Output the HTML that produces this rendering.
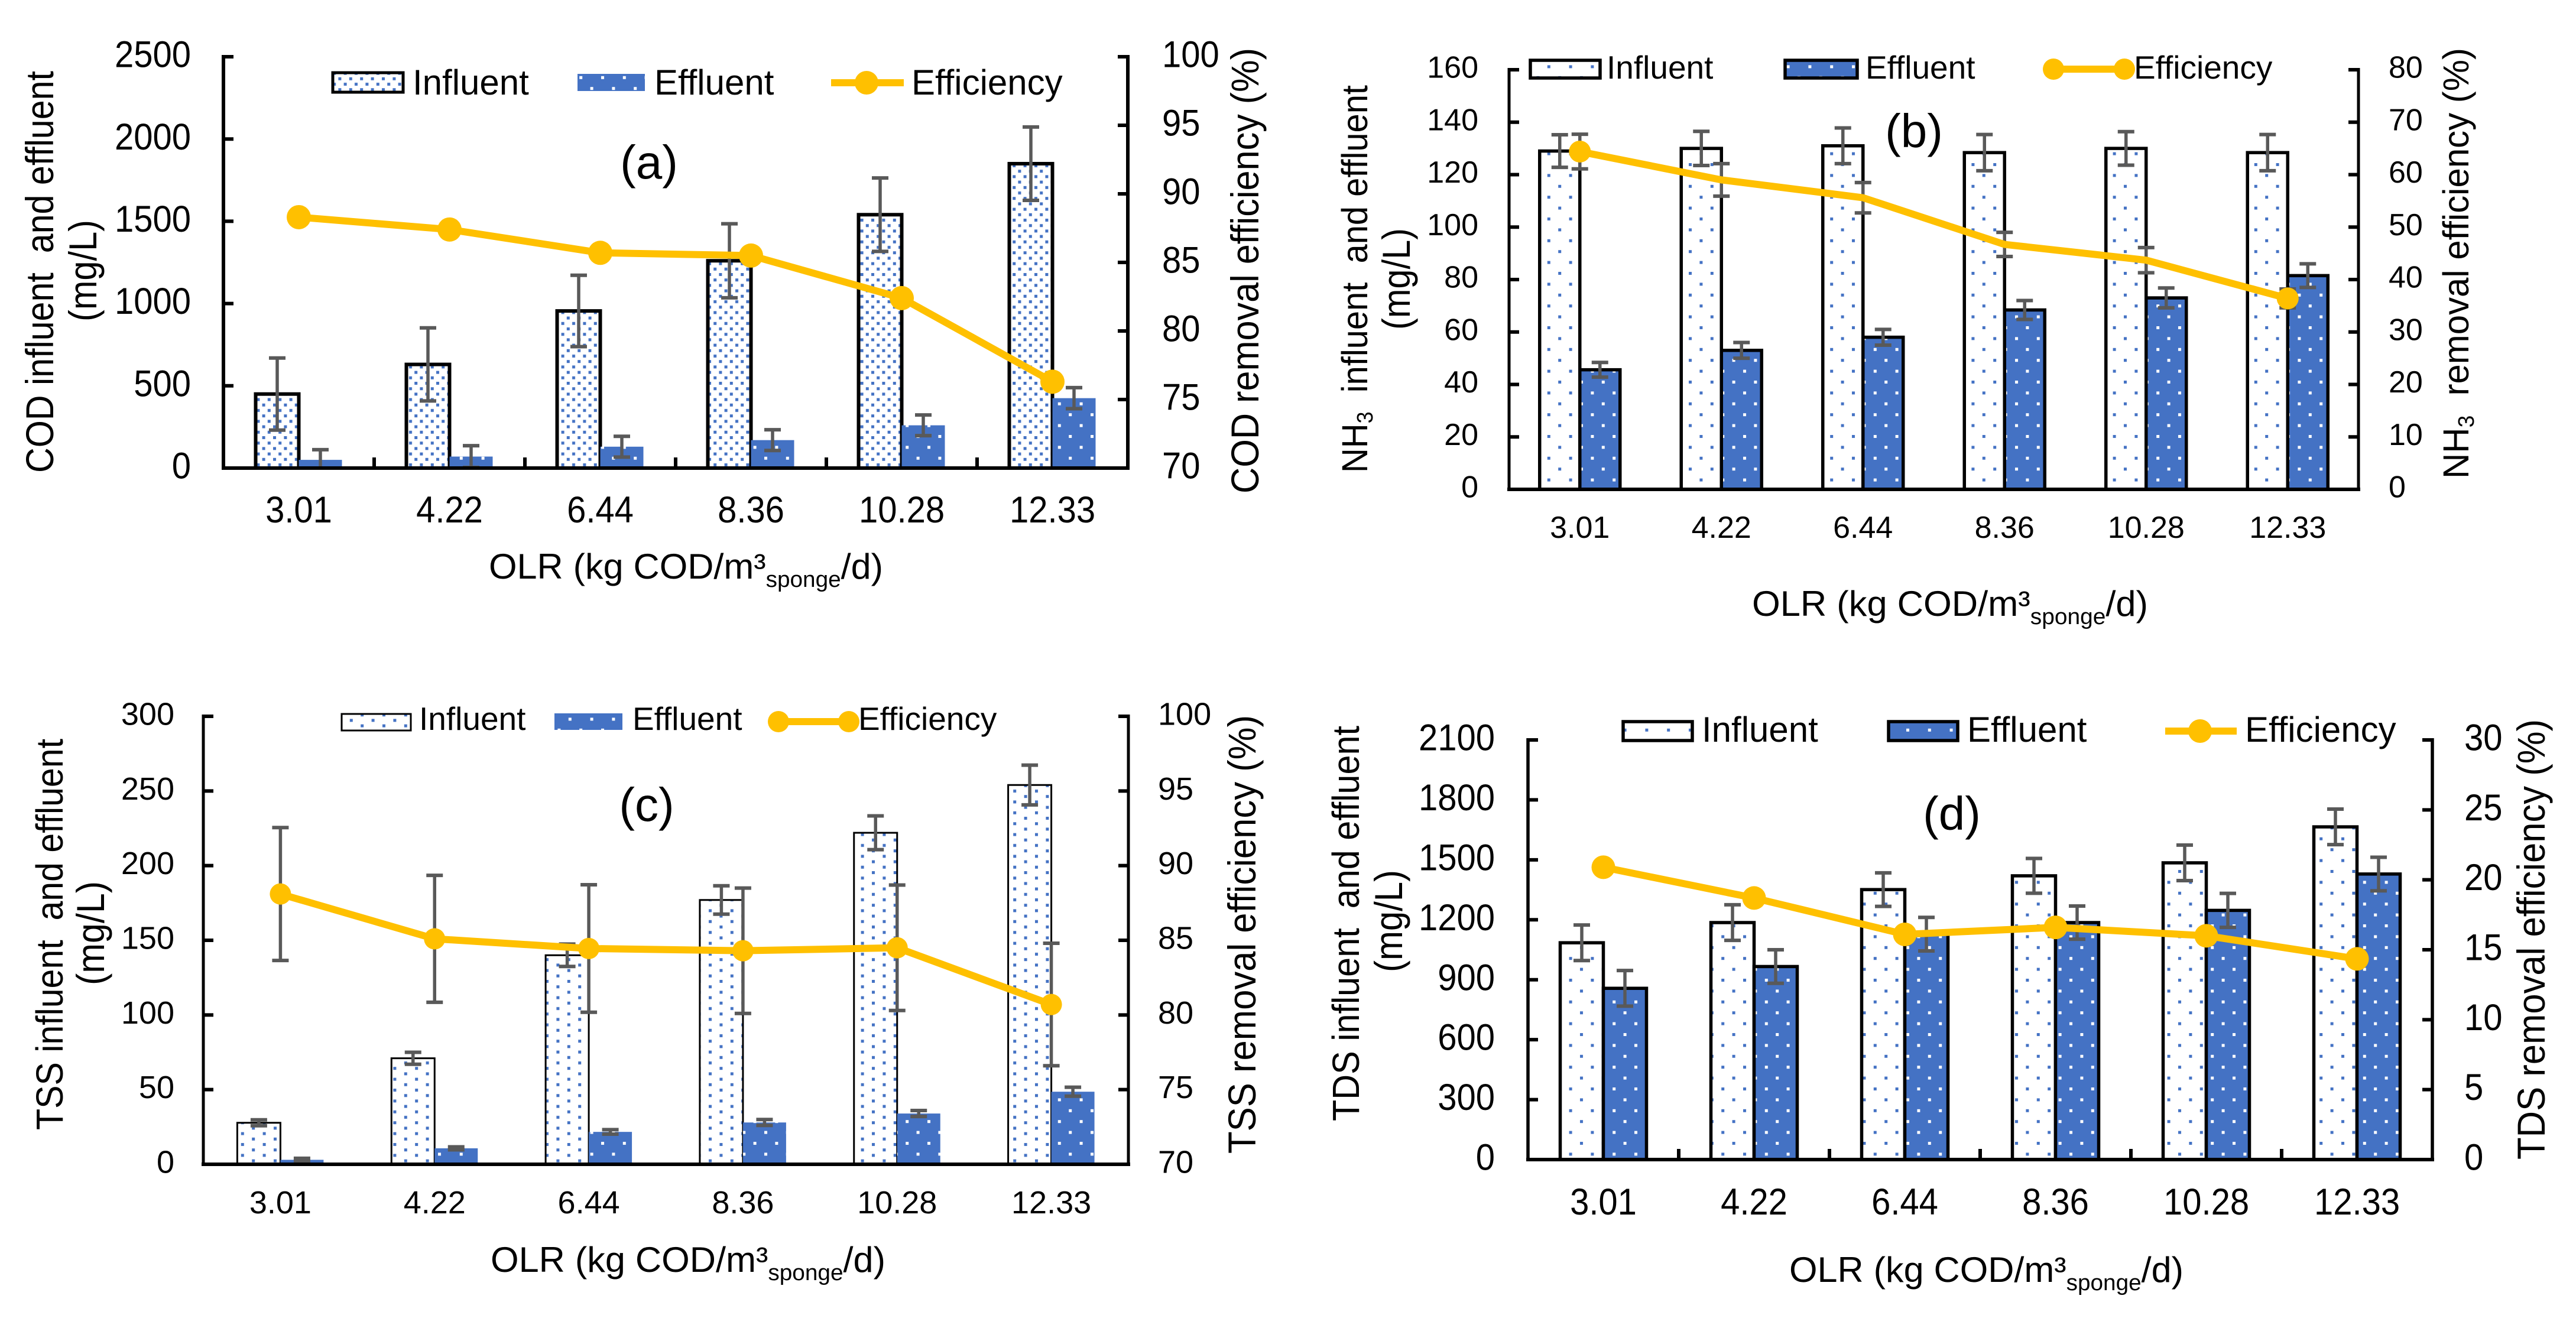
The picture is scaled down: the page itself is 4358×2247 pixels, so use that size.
<!DOCTYPE html>
<html lang="en">
<head>
<meta charset="utf-8">
<title>Influent, effluent and removal efficiency vs OLR</title>
<style>
html,body{margin:0;padding:0;background:#fff;}
svg{display:block;}
text{font-family:"Liberation Sans",Arial,sans-serif;fill:#000;white-space:pre;}
</style>
</head>
<body>
<svg id="figure" xmlns="http://www.w3.org/2000/svg" width="4358" height="2247" viewBox="0 0 4358 2247">
<defs>
<pattern id="inDense" patternUnits="userSpaceOnUse" width="18.4" height="18.4"><rect width="18.4" height="18.4" fill="#fff"/><rect x="2" y="2" width="5" height="5" fill="#4472C4"/><rect x="11.2" y="11.2" width="5" height="5" fill="#4472C4"/></pattern>
<pattern id="inMid" patternUnits="userSpaceOnUse" width="36.8" height="18.4"><rect width="36.8" height="18.4" fill="#fff"/><rect x="3" y="2" width="5" height="5" fill="#4472C4"/><rect x="21.4" y="11.2" width="5" height="5" fill="#4472C4"/></pattern>
<pattern id="inSparse" patternUnits="userSpaceOnUse" width="36.8" height="36.8"><rect width="36.8" height="36.8" fill="#fff"/><rect x="5" y="0" width="5" height="5" fill="#4472C4"/><rect x="23.4" y="18.4" width="5" height="5" fill="#4472C4"/></pattern>
<pattern id="outSparse" patternUnits="userSpaceOnUse" width="36.8" height="36.8"><rect width="36.8" height="36.8" fill="#4472C4"/><rect x="5" y="0" width="5" height="5" fill="#fff"/><rect x="23.4" y="18.4" width="5" height="5" fill="#fff"/></pattern>
</defs>

<g id="panel-a">
  <g>
    <rect x="563" y="123" width="119" height="33" fill="url(#inDense)" stroke="#000" stroke-width="5"/>
    <text x="698" y="160" font-size="60">Influent</text>
    <rect x="977" y="125" width="114" height="29" fill="url(#outSparse)"/>
    <text x="1107" y="160" font-size="60">Effluent</text>
    <line x1="1406" y1="140" x2="1529" y2="140" stroke="#FFC000" stroke-width="12"/>
    <circle cx="1466" cy="140" r="20" fill="#FFC000"/>
    <text x="1542" y="160" font-size="60">Efficiency</text>
  </g>
  <text x="1098" y="302" font-size="80" text-anchor="middle">(a)</text>
  <text transform="translate(90,800) rotate(-90) scale(1,1.12)" font-size="59" textLength="680" lengthAdjust="spacingAndGlyphs">COD influent  and effluent</text>
  <text transform="translate(163,544) rotate(-90) scale(1,1.12)" font-size="59" textLength="172" lengthAdjust="spacingAndGlyphs">(mg/L)</text>
  <text transform="translate(2129,835) rotate(-90) scale(1,1.12)" font-size="59" textLength="754" lengthAdjust="spacingAndGlyphs">COD removal efficiency (%)</text>
  <text x="827" y="979" font-size="60" textLength="667" lengthAdjust="spacingAndGlyphs">OLR (kg COD/m³<tspan font-size="38" dy="14">sponge</tspan><tspan dy="-14">/d)</tspan></text>
</g>

<g id="panel-b">
  <g>
    <rect x="2589" y="102" width="118" height="30" fill="url(#inSparse)" stroke="#000" stroke-width="5.5"/>
    <text x="2718" y="133" font-size="55">Influent</text>
    <rect x="3020" y="102" width="122" height="30" fill="url(#outSparse)" stroke="#000" stroke-width="5.5"/>
    <text x="3156" y="133" font-size="55">Effluent</text>
    <line x1="3474" y1="117" x2="3594" y2="117" stroke="#FFC000" stroke-width="12"/>
    <circle cx="3474" cy="117" r="18" fill="#FFC000"/>
    <circle cx="3594" cy="117" r="18" fill="#FFC000"/>
    <text x="3610" y="133" font-size="55">Efficiency</text>
  </g>
  <text x="3238" y="249" font-size="80" text-anchor="middle">(b)</text>
  <text transform="translate(2313,800) rotate(-90) scale(1,1.12)" font-size="55" textLength="656" lengthAdjust="spacingAndGlyphs">NH<tspan font-size="34" dy="8">3</tspan><tspan dy="-8">  influent  and effluent</tspan></text>
  <text transform="translate(2385,558) rotate(-90) scale(1,1.12)" font-size="59" textLength="172" lengthAdjust="spacingAndGlyphs">(mg/L)</text>
  <text transform="translate(4176,810) rotate(-90) scale(1,1.12)" font-size="55" textLength="729" lengthAdjust="spacingAndGlyphs">NH<tspan font-size="34" dy="8">3</tspan><tspan dy="-8">  removal efficiency (%)</tspan></text>
  <text x="2964" y="1042" font-size="60" textLength="670" lengthAdjust="spacingAndGlyphs">OLR (kg COD/m³<tspan font-size="38" dy="14">sponge</tspan><tspan dy="-14">/d)</tspan></text>
</g>

<g id="panel-c">
  <g>
    <rect x="578" y="1208" width="117" height="28" fill="url(#inMid)" stroke="#000" stroke-width="3"/>
    <text x="709" y="1235" font-size="55">Influent</text>
    <rect x="938" y="1207" width="115" height="28" fill="url(#outSparse)"/>
    <text x="1070" y="1235" font-size="55">Effluent</text>
    <line x1="1317" y1="1221" x2="1436" y2="1221" stroke="#FFC000" stroke-width="12"/>
    <circle cx="1317" cy="1221" r="18" fill="#FFC000"/>
    <circle cx="1436" cy="1221" r="18" fill="#FFC000"/>
    <text x="1452" y="1235" font-size="55">Efficiency</text>
  </g>
  <text x="1094" y="1389" font-size="80" text-anchor="middle">(c)</text>
  <text transform="translate(106,1912) rotate(-90) scale(1,1.12)" font-size="57" textLength="662" lengthAdjust="spacingAndGlyphs">TSS influent  and effluent</text>
  <text transform="translate(176,1667) rotate(-90) scale(1,1.12)" font-size="59" textLength="176" lengthAdjust="spacingAndGlyphs">(mg/L)</text>
  <text transform="translate(2124,1952) rotate(-90) scale(1,1.12)" font-size="59" textLength="742" lengthAdjust="spacingAndGlyphs">TSS removal efficiency (%)</text>
  <text x="830" y="2152" font-size="60" textLength="668" lengthAdjust="spacingAndGlyphs">OLR (kg COD/m³<tspan font-size="38" dy="14">sponge</tspan><tspan dy="-14">/d)</tspan></text>
</g>

<g id="panel-d">
  <g>
    <rect x="2746" y="1221" width="117" height="32" fill="url(#inSparse)" stroke="#000" stroke-width="5.5"/>
    <text x="2879" y="1255" font-size="60">Influent</text>
    <rect x="3195" y="1221" width="117" height="32" fill="url(#outSparse)" stroke="#000" stroke-width="5.5"/>
    <text x="3328" y="1255" font-size="60">Effluent</text>
    <line x1="3663" y1="1237" x2="3784" y2="1237" stroke="#FFC000" stroke-width="12"/>
    <circle cx="3722" cy="1237" r="20" fill="#FFC000"/>
    <text x="3798" y="1255" font-size="60">Efficiency</text>
  </g>
  <text x="3302" y="1404" font-size="80" text-anchor="middle">(d)</text>
  <text transform="translate(2299,1897) rotate(-90) scale(1,1.12)" font-size="57" textLength="669" lengthAdjust="spacingAndGlyphs">TDS influent  and effluent</text>
  <text transform="translate(2372,1645) rotate(-90) scale(1,1.12)" font-size="59" textLength="173" lengthAdjust="spacingAndGlyphs">(mg/L)</text>
  <text transform="translate(4305,1962) rotate(-90) scale(1,1.12)" font-size="59" textLength="745" lengthAdjust="spacingAndGlyphs">TDS removal efficiency (%)</text>
  <text x="3027" y="2169" font-size="60" textLength="667" lengthAdjust="spacingAndGlyphs">OLR (kg COD/m³<tspan font-size="38" dy="14">sponge</tspan><tspan dy="-14">/d)</tspan></text>
</g>
</svg>

<script>
const categories = ['3.01', '4.22', '6.44', '8.36', '10.28', '12.33'];

const aLeftTicks = [0, 500, 1000, 1500, 2000, 2500];
const aRightTicks = [70, 75, 80, 85, 90, 95, 100];
const aInfluent = [450, 630, 955, 1260, 1540, 1850];
const aInfluentErr = [219, 222, 217, 225, 223, 223];
const aEffluent = [50, 70, 130, 170, 260, 425];
const aEffluentErr = [62, 66, 63, 63, 63, 64];
const aEfficiency = [88.3, 87.4, 85.7, 85.5, 82.4, 76.3];

const bLeftTicks = [0, 20, 40, 60, 80, 100, 120, 140, 160];
const bRightTicks = [0, 10, 20, 30, 40, 50, 60, 70, 80];
const bInfluent = [129, 130, 131, 128.4, 130, 128.4];
const bInfluentErr = [6.2, 6.5, 6.8, 6.9, 6.4, 6.9];
const bEffluent = [45.6, 53, 58, 68.4, 73, 81.5];
const bEffluentErr = [2.8, 3, 3, 3.6, 3.8, 4.5];
const bEfficiency = [64.4, 59, 55.6, 46.7, 43.7, 36.4];
const bEfficiencyErr = [3.3, 3.1, 2.9, 2.3, 2.4, 1.8];

const cLeftTicks = [0, 50, 100, 150, 200, 250, 300];
const cRightTicks = [70, 75, 80, 85, 90, 95, 100];
const cInfluent = [27.8, 71, 140, 177, 222, 254];
const cInfluentErr = [2, 4, 7.5, 9.5, 11.3, 13.3];
const cEffluent = [3, 10.7, 21.7, 28, 34, 48.6];
const cEffluentErr = [1, 1, 1.5, 2, 2, 3];
const cEfficiency = [88.1, 85.1, 84.45, 84.3, 84.5, 80.7];
const cEfficiencyErr = [4.45, 4.25, 4.27, 4.2, 4.2, 4.1];

const dLeftTicks = [0, 300, 600, 900, 1200, 1500, 1800, 2100];
const dRightTicks = [0, 5, 10, 15, 20, 25, 30];
const dInfluent = [1085, 1186, 1351, 1420, 1485, 1665];
const dInfluentErr = [89, 89, 84, 87, 89, 89];
const dEffluent = [857, 966, 1128, 1186, 1247, 1429];
const dEffluentErr = [89, 84, 84, 83, 85, 84];
const dEfficiency = [20.9, 18.7, 16.1, 16.6, 16.0, 14.35];

const SVGNS = 'http://www.w3.org/2000/svg';

function mk(parent, tag, attrs, txt) {
  const el = document.createElementNS(SVGNS, tag);
  for (const k in attrs) el.setAttribute(k, attrs[k]);
  if (txt !== undefined) el.textContent = txt;
  parent.appendChild(el);
  return el;
}

function drawPanel(id, p) {
  const root = document.getElementById(id);
  const g = mk(root, 'g', {});
  
  
  const n = categories.length;
  const step = (p.right - p.left) / n;
  const xC = i => p.left + step * (i + 0.5);
  const yL = v => p.bottom - (v - p.leftTicks[0]) / (p.leftTicks[p.leftTicks.length - 1] - p.leftTicks[0]) * (p.bottom - p.top);
  const yR = v => p.bottom - (v - p.rightTicks[0]) / (p.rightTicks[p.rightTicks.length - 1] - p.rightTicks[0]) * (p.bottom - p.top);
  const labelY = y => y - 5 + p.font * 0.36 * p.stretch;
  const EC = '#595959';

  function errBar(cx, yTop, yLow, name) {
    const eg = mk(g, 'g', { stroke: EC, 'stroke-width': 5.5, fill: 'none' });
    
    
    mk(eg, 'line', { x1: cx, x2: cx, y1: yTop, y2: yLow });
    mk(eg, 'line', { x1: cx - 14, x2: cx + 14, y1: yTop, y2: yTop, 'stroke-width': 6 });
    mk(eg, 'line', { x1: cx - 14, x2: cx + 14, y1: yLow, y2: yLow, 'stroke-width': 6 });
  }

  categories.forEach((c, i) => {
    const cx = xC(i);
    const y1 = yL(p.influent[i]);
    const inBar = mk(g, 'rect', { x: cx - p.barW, y: y1, width: p.barW, height: p.bottom - y1, fill: 'url(#' + p.inFill + ')', stroke: '#000', 'stroke-width': p.inStroke });
    
    
    const y2 = yL(p.effluent[i]);
    const outBar = mk(g, 'rect', { x: cx, y: y2, width: p.barW, height: p.bottom - y2, fill: 'url(#outSparse)', stroke: p.outStroke ? '#000' : 'none', 'stroke-width': p.outStroke });
    
    
  });

  categories.forEach((c, i) => {
    const cx = xC(i);
    errBar(cx - p.barW / 2, yL(p.influent[i] + p.influentErr[i]), yL(Math.max(0, p.influent[i] - p.influentErr[i])), 'error-bar-influent-' + c);
    errBar(cx + p.barW / 2, yL(p.effluent[i] + p.effluentErr[i]), yL(Math.max(0, p.effluent[i] - p.effluentErr[i])), 'error-bar-effluent-' + c);
    if (p.efficiencyErr) {
      errBar(cx, yR(p.efficiency[i] + p.efficiencyErr[i]), yR(p.efficiency[i] - p.efficiencyErr[i]), 'error-bar-efficiency-' + c);
    }
  });

  const axes = mk(g, 'g', { stroke: '#000', fill: 'none' });
  
  
  const axisLeft = mk(axes, 'line', { x1: p.left, x2: p.left, y1: p.top - 3, y2: p.bottom, 'stroke-width': p.axisW });
  
  
  const axisRight = mk(axes, 'line', { x1: p.right, x2: p.right, y1: p.top - 3, y2: p.bottom, 'stroke-width': p.axisW });
  
  
  const axisBottom = mk(axes, 'line', { x1: p.left - 3, x2: p.right + 3, y1: p.bottom, y2: p.bottom, 'stroke-width': 6 });
  
  

  p.leftTicks.forEach(t => {
    const y = yL(t);
    const tick = mk(axes, 'line', { x1: p.left, x2: p.left + 17, y1: y, y2: y, 'stroke-width': 6 });
    
    
    const lab = mk(g, 'text', { transform: 'translate(' + p.leftLabelX + ',' + labelY(y) + ') scale(1,' + p.stretch + ')', 'font-size': p.font, 'text-anchor': 'end' }, String(t));
    
    
  });
  p.rightTicks.forEach(t => {
    const y = yR(t);
    const tick = mk(axes, 'line', { x1: p.right - 17, x2: p.right, y1: y, y2: y, 'stroke-width': 6 });
    
    
    const lab = mk(g, 'text', { transform: 'translate(' + p.rightLabelX + ',' + labelY(y) + ') scale(1,' + p.stretch + ')', 'font-size': p.font }, String(t));
    
    
  });
  if (p.catTicks) {
    for (let i = 1; i < n; i++) {
      const x = p.left + step * i;
      const tick = mk(axes, 'line', { x1: x, x2: x, y1: p.bottom - 18, y2: p.bottom, 'stroke-width': 6 });
      
      
    }
  }
  categories.forEach((c, i) => {
    const lab = mk(g, 'text', { transform: 'translate(' + xC(i) + ',' + p.catY + ') scale(1,' + p.stretch + ')', 'font-size': p.font, 'text-anchor': 'middle' }, c);
    
    
  });

  const pts = p.efficiency.map((v, i) => xC(i) + ',' + yR(v)).join(' ');
  const line = mk(g, 'polyline', { points: pts, fill: 'none', stroke: '#FFC000', 'stroke-width': 12, 'stroke-linejoin': 'round' });
  
  
  p.efficiency.forEach((v, i) => {
    if (p.markerEnds && i !== 0 && i !== n - 1) return;
    const pt = mk(g, 'circle', { cx: xC(i), cy: yR(v), r: p.markerR, fill: '#FFC000' });
    
    
  });
}

drawPanel('panel-a', {
  left: 378, right: 1908, top: 96, bottom: 792, barW: 73, axisW: 6, markerR: 20.5,
  leftTicks: aLeftTicks, rightTicks: aRightTicks,
  influent: aInfluent, influentErr: aInfluentErr,
  effluent: aEffluent, effluentErr: aEffluentErr,
  efficiency: aEfficiency,
  inFill: 'inDense', inStroke: 6, outStroke: 0, catTicks: true,
  font: 58, stretch: 1.08, leftLabelX: 323, rightLabelX: 1966, catY: 884
});
drawPanel('panel-b', {
  left: 2553, right: 3990, top: 118, bottom: 828, barW: 68, axisW: 5, markerR: 18.5,
  leftTicks: bLeftTicks, rightTicks: bRightTicks,
  influent: bInfluent, influentErr: bInfluentErr,
  effluent: bEffluent, effluentErr: bEffluentErr,
  efficiency: bEfficiency, efficiencyErr: bEfficiencyErr, markerEnds: true,
  inFill: 'inSparse', inStroke: 5.5, outStroke: 5.5, catTicks: false,
  font: 52, stretch: 1, leftLabelX: 2501, rightLabelX: 4041, catY: 910
});
drawPanel('panel-c', {
  left: 344, right: 1909, top: 1212, bottom: 1970, barW: 73, axisW: 5, markerR: 18,
  leftTicks: cLeftTicks, rightTicks: cRightTicks,
  influent: cInfluent, influentErr: cInfluentErr,
  effluent: cEffluent, effluentErr: cEffluentErr,
  efficiency: cEfficiency, efficiencyErr: cEfficiencyErr,
  inFill: 'inMid', inStroke: 3, outStroke: 0, catTicks: false,
  font: 54, stretch: 1, leftLabelX: 295, rightLabelX: 1959, catY: 2053
});
drawPanel('panel-d', {
  left: 2585, right: 4115, top: 1252, bottom: 1962, barW: 73, axisW: 5.5, markerR: 20,
  leftTicks: dLeftTicks, rightTicks: dRightTicks,
  influent: dInfluent, influentErr: dInfluentErr,
  effluent: dEffluent, effluentErr: dEffluentErr,
  efficiency: dEfficiency,
  inFill: 'inSparse', inStroke: 5.5, outStroke: 5.5, catTicks: true,
  font: 58, stretch: 1.08, leftLabelX: 2529, rightLabelX: 4169, catY: 2055
});
</script>
</body>
</html>
